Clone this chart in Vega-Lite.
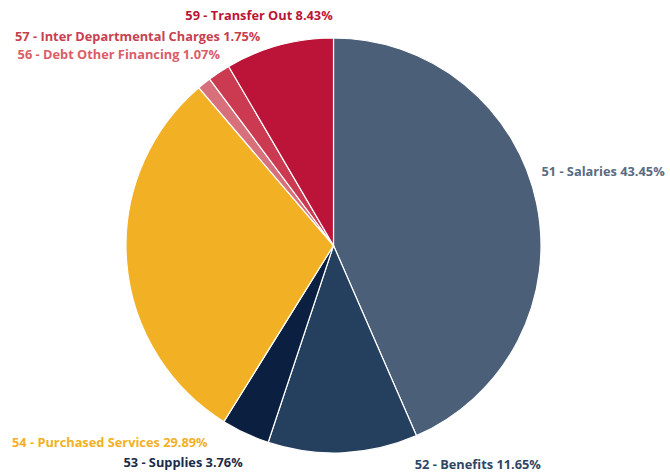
{
  "$schema": "https://vega.github.io/schema/vega-lite/v6.json",
  "width": 667,
  "height": 467,
  "padding": {"top": 12, "left": 0, "right": 0, "bottom": 0},
  "autosize": "none",
  "background": "white",
  "config": {"view": {"stroke": null}},
  "data": {
    "values": [
      {"category": "51 - Salaries", "pct": 43.45},
      {"category": "52 - Benefits", "pct": 11.65},
      {"category": "53 - Supplies", "pct": 3.76},
      {"category": "54 - Purchased Services", "pct": 29.89},
      {"category": "56 - Debt Other Financing", "pct": 1.07},
      {"category": "57 - Inter Departmental Charges", "pct": 1.75},
      {"category": "59 - Transfer Out", "pct": 8.43}
    ]
  },
  "transform": [
    {"calculate": "datum.category + ' ' + format(datum.pct, '.2f') + '%'", "as": "label"},
    {"window": [{"op": "sum", "field": "pct", "as": "cum"}], "sort": [{"field": "category", "order": "ascending"}]},
    {"calculate": "datum.cum - datum.pct / 2", "as": "mid"}
  ],
  "layer": [
    {
      "mark": {"type": "arc", "outerRadius": 207.5, "stroke": "white", "strokeWidth": 1.2},
      "encoding": {
        "theta": {"field": "pct", "type": "quantitative", "stack": true, "scale": {"domain": [0, 100]}},
        "order": {"field": "category", "type": "nominal", "sort": "ascending"},
        "color": {
          "field": "category",
          "type": "nominal",
          "legend": null,
          "scale": {
            "domain": ["51 - Salaries", "52 - Benefits", "53 - Supplies", "54 - Purchased Services", "56 - Debt Other Financing", "57 - Inter Departmental Charges", "59 - Transfer Out"],
            "range": ["#4b6078", "#253f5e", "#0b2040", "#f2b124", "#d8707c", "#cc3a52", "#bc1438"]
          }
        }
      }
    },
    {
      "transform": [{"filter": "datum.category == '51 - Salaries'"}],
      "mark": {"type": "text", "radius": 215, "align": "left", "baseline": "middle", "dx": -2.5, "dy": -30, "font": "Open Sans", "fontWeight": "bold", "fontSize": 12.8, "fill": "#586b83"},
      "encoding": {"theta": {"field": "mid", "type": "quantitative", "stack": null}, "text": {"field": "label"}}
    },
    {
      "transform": [{"filter": "datum.category == '52 - Benefits'"}],
      "mark": {"type": "text", "radius": 215, "align": "left", "baseline": "middle", "dx": 71.5, "dy": 5, "font": "Open Sans", "fontWeight": "bold", "fontSize": 12.8, "fill": "#2d4766"},
      "encoding": {"theta": {"field": "mid", "type": "quantitative", "stack": null}, "text": {"field": "label"}}
    },
    {
      "transform": [{"filter": "datum.category == '53 - Supplies'"}],
      "mark": {"type": "text", "radius": 215, "align": "right", "baseline": "middle", "dx": 0.5, "dy": 23, "font": "Open Sans", "fontWeight": "bold", "fontSize": 12.8, "fill": "#1a2c4a"},
      "encoding": {"theta": {"field": "mid", "type": "quantitative", "stack": null}, "text": {"field": "label"}}
    },
    {
      "transform": [{"filter": "datum.category == '54 - Purchased Services'"}],
      "mark": {"type": "text", "radius": 215, "align": "right", "baseline": "middle", "dx": 88.5, "dy": 181, "font": "Open Sans", "fontWeight": "bold", "fontSize": 12.8, "fill": "#f2b124"},
      "encoding": {"theta": {"field": "mid", "type": "quantitative", "stack": null}, "text": {"field": "label"}}
    },
    {
      "transform": [{"filter": "datum.category == '56 - Debt Other Financing'"}],
      "mark": {"type": "text", "radius": 215, "align": "right", "baseline": "middle", "dx": 20.5, "dy": -22, "font": "Open Sans", "fontWeight": "bold", "fontSize": 12.8, "fill": "#dc5c68"},
      "encoding": {"theta": {"field": "mid", "type": "quantitative", "stack": null}, "text": {"field": "label"}}
    },
    {
      "transform": [{"filter": "datum.category == '57 - Inter Departmental Charges'"}],
      "mark": {"type": "text", "radius": 215, "align": "right", "baseline": "middle", "dx": 45.5, "dy": -29, "font": "Open Sans", "fontWeight": "bold", "fontSize": 12.8, "fill": "#c8414f"},
      "encoding": {"theta": {"field": "mid", "type": "quantitative", "stack": null}, "text": {"field": "label"}}
    },
    {
      "transform": [{"filter": "datum.category == '59 - Transfer Out'"}],
      "mark": {"type": "text", "radius": 215, "align": "right", "baseline": "middle", "dx": 55.5, "dy": -22, "font": "Open Sans", "fontWeight": "bold", "fontSize": 12.8, "fill": "#bc1438"},
      "encoding": {"theta": {"field": "mid", "type": "quantitative", "stack": null}, "text": {"field": "label"}}
    }
  ]
}
